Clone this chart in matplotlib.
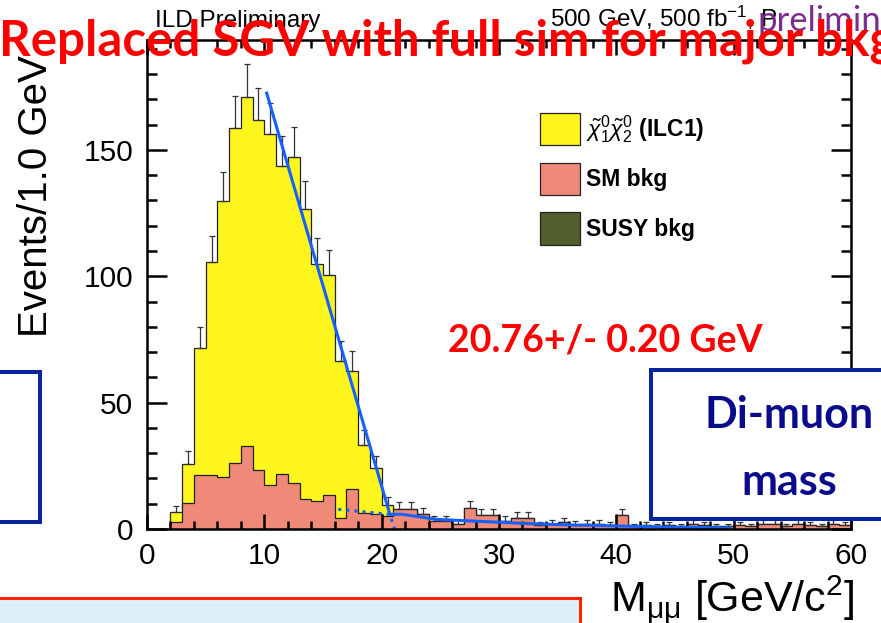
import numpy as np
import matplotlib
matplotlib.use('Agg')
from matplotlib import pyplot as plt
from matplotlib.patches import Patch, Rectangle
from matplotlib.ticker import MultipleLocator

W, H = 881, 623

# 1 GeV bins, lower edges 2 ... 59
bin_edges = list(range(2, 61))
total = [6.7, 25.7, 71.5, 105.7, 129.8, 158.6, 170.9, 161.8, 156.2, 143.7,
         147.1, 126.5, 104.8, 100.4, 66.4, 62.7, 33.3, 24.1, 9.5, 7.8,
         7.8, 5.8, 3.2, 3.2, 2.1, 8.2, 5.6, 5.6, 3.2, 4.5,
         4.5, 1.5, 2.0, 2.8, 1.7, 2.0, 2.0, 1.5, 5.6, 1.1,
         1.5, 1.0, 1.5, 1.0, 2.0, 1.5, 1.0, 1.0, 1.5, 1.0,
         2.0, 2.0, 1.0, 2.0, 1.5, 1.0, 2.0, 1.5]
sm_bkg = [2.8, 10.2, 21.4, 21.4, 20.4, 26.3, 32.9, 23.3, 17.3, 21.7,
          18.4, 12.0, 11.1, 13.4, 4.2, 15.7, 6.5, 5.8, 5.0, 7.8,
          7.8, 5.8, 3.2, 3.2, 2.1, 8.2, 5.6, 5.6, 3.2, 4.5,
          4.5, 1.5, 2.0, 2.8, 1.7, 2.0, 2.0, 1.5, 5.6, 1.1,
          1.5, 1.0, 1.5, 1.0, 2.0, 1.5, 1.0, 1.0, 1.5, 1.0,
          2.0, 2.0, 1.0, 2.0, 1.5, 1.0, 2.0, 1.5]

# edge fit (solid) and its background part (dotted)
fit_x = [10.2, 20.7, 21.8, 24.7, 27.5, 32.7, 36.1, 40.0, 45.0, 49.7]
fit_y = [172.5, 5.8, 5.8, 3.8, 3.2, 2.1, 1.6, 1.2, 0.7, 0.4]
bkg_fit_x = [16.3, 20.7, 21.1]
bkg_fit_y = [7.8, 5.8, 0.0]

x_ticks = [0, 10, 20, 30, 40, 50, 60]
y_ticks = [0, 50, 100, 150]
legend_labels = [r'$\tilde{\chi}^0_1\tilde{\chi}^0_2$ (ILC1)', 'SM bkg', 'SUSY bkg']

YELLOW = '#FFF51E'
SALMON = '#EF8A78'
OLIVE = '#505F2C'
FIT_BLUE = '#1560FF'
BOX_BLUE = '#0A24A0'
ROOT_FONT = 'Liberation Sans'
SLIDE_FONT = 'Lato'

plt.rcParams['mathtext.fontset'] = 'custom'
plt.rcParams['mathtext.rm'] = ROOT_FONT
plt.rcParams['mathtext.it'] = ROOT_FONT + ':italic'
plt.rcParams['mathtext.bf'] = ROOT_FONT + ':bold'


def fx(x):
    return x / W


def fy(y):
    return 1 - y / H


fig = plt.figure(figsize=(W / 100, H / 100), dpi=100)
ax = fig.add_axes([fx(147), fy(529), (851 - 147) / W, (529 - 40) / H])

centers = np.array(bin_edges[:-1]) + 0.5
ax.stairs(total, bin_edges, fill=True, facecolor=YELLOW, edgecolor='#222222', linewidth=0.9)
ax.stairs(sm_bkg, bin_edges, fill=True, facecolor=SALMON, edgecolor='#222222', linewidth=0.9)
ax.errorbar(centers, total, yerr=[np.zeros(len(total)), np.sqrt(total)], fmt='none',
            ecolor='#333333', elinewidth=0.9, capsize=2.2, capthick=0.9)
ax.plot(fit_x, fit_y, color=FIT_BLUE, linewidth=2.2)
ax.plot(bkg_fit_x, bkg_fit_y, color=FIT_BLUE, linewidth=2.2, linestyle=':')

ax.set_xlim(0, 60)
ax.set_ylim(0, 193.5)
ax.set_xticks(x_ticks)
ax.set_yticks(y_ticks)
ax.xaxis.set_minor_locator(MultipleLocator(2))
ax.yaxis.set_minor_locator(MultipleLocator(10))
ax.tick_params(which='both', direction='in', top=True, right=True, width=1.8,
               labelsize=21.5)
ax.tick_params(axis='x', which='major', length=11, pad=9)
ax.tick_params(axis='x', which='minor', length=5.8)
ax.tick_params(axis='y', which='major', length=14.4, pad=10)
ax.tick_params(axis='y', which='minor', length=7.2)
for lab in ax.get_xticklabels() + ax.get_yticklabels():
    lab.set_fontfamily(ROOT_FONT)
for sp in ax.spines.values():
    sp.set_linewidth(1.8)

handles = [Patch(facecolor=c, edgecolor='#222222', linewidth=0.9) for c in (YELLOW, SALMON, OLIVE)]
leg = ax.legend(handles, legend_labels, loc='upper left', bbox_to_anchor=(fx(540), fy(113)),
                bbox_transform=fig.transFigure, frameon=False, handlelength=1.75,
                handleheight=1.8, labelspacing=0.75, handletextpad=0.25, borderpad=0,
                borderaxespad=0, prop={'family': ROOT_FONT, 'weight': 'bold', 'size': 16.5})

# axis titles
fig.text(fx(36), fy(337), 'Events/1.0 GeV', rotation=90, ha='center', va='bottom',
         fontsize=29, family=ROOT_FONT, zorder=3)
fig.text(fx(855), fy(600), r'M$_{\mathrm{\mu\mu}}$ [GeV/c$^2$]', ha='right', va='center',
         fontsize=31, family=ROOT_FONT, zorder=3)

# header texts
fig.text(fx(155), fy(27), 'ILD Preliminary', ha='left', va='baseline', fontsize=17.5,
         family=ROOT_FONT, zorder=3)
fig.text(fx(550), fy(27), r'500 GeV, 500 fb$^{-1}$, P', ha='left', va='baseline',
         fontsize=17.5, family=ROOT_FONT, zorder=3)
fig.text(fx(758), fy(31), 'preliminary', ha='left', va='baseline', fontsize=25,
         family=SLIDE_FONT, color='#7B2D8E', zorder=3)

# slide overlays
fig.patches.append(Rectangle((fx(-10), fy(522)), fx(50), 150 / H, transform=fig.transFigure,
                             facecolor='white', edgecolor=BOX_BLUE, linewidth=2.9, zorder=4))
fig.patches.append(Rectangle((fx(651), fy(519)), fx(260), 149 / H, transform=fig.transFigure,
                             facecolor='white', edgecolor=BOX_BLUE, linewidth=2.9, zorder=4))
fig.patches.append(Rectangle((fx(-5), fy(640)), fx(585), 42 / H, transform=fig.transFigure,
                             facecolor='#DEEEF6', edgecolor='#FF2200', linewidth=2.2, zorder=4))
fig.text(fx(789), fy(428), 'Di-muon', ha='center', va='baseline', fontsize=31,
         family=SLIDE_FONT, weight='bold', color='#0A0A8C', zorder=5)
fig.text(fx(789), fy(495), 'mass', ha='center', va='baseline', fontsize=31,
         family=SLIDE_FONT, weight='bold', color='#0A0A8C', zorder=5)
fig.text(fx(448), fy(352), '20.76+/- 0.20 GeV', ha='left', va='baseline', fontsize=27,
         family=SLIDE_FONT, weight='bold', color='#FF0000', zorder=5)
fig.text(fx(-1), fy(55), 'Replaced SGV with full sim for major bkg', ha='left', va='baseline',
         fontsize=35.5, family=SLIDE_FONT, weight='bold', color='#FF0000', zorder=6)

fig.savefig('out.png', dpi=100)
